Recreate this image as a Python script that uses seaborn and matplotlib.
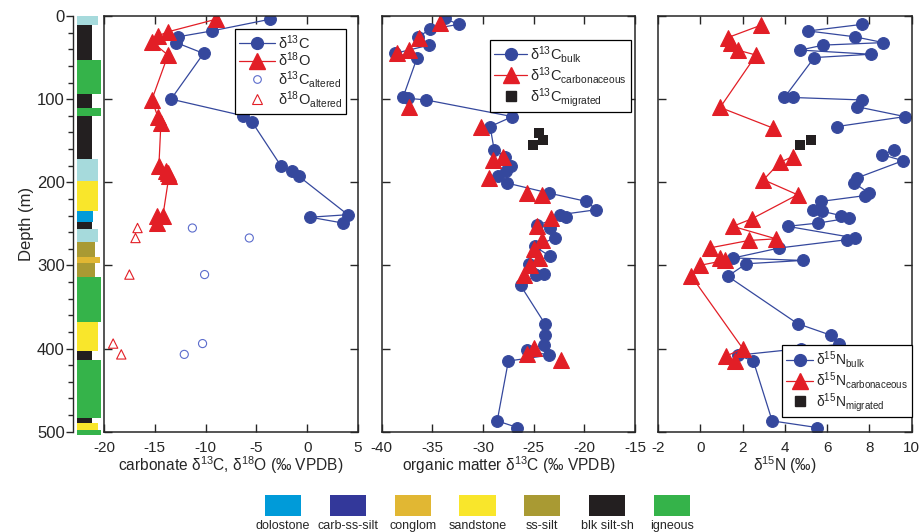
import numpy as np
import pandas as pd
import matplotlib
matplotlib.use("Agg")
import matplotlib.pyplot as plt
import seaborn as sns
from matplotlib.lines import Line2D

# ---- carbonate panel ----
carb_depth_c = [4, 18, 25, 32, 45, 100, 120, 128, 180, 187, 193, 239, 242, 249]
carb_d13c = [-3.7, -9.4, -12.7, -12.9, -10.2, -13.4, -6.3, -5.4, -2.6, -1.5, -0.8, 4.0, 0.3, 3.5]
carb_depth_o = [4, 19, 24, 31, 47, 101, 121, 129, 181, 186, 189, 192, 240, 241, 249]
carb_d18o = [-9.0, -13.7, -14.7, -15.3, -13.7, -15.3, -14.7, -14.4, -14.6, -13.9, -13.7, -13.6, -14.2, -14.8, -14.8]
alt_depth = [255, 267, 311, 394, 407]
alt_d13c = [-11.3, -5.7, -10.1, -10.3, -12.1]
alt_d18o = [-16.7, -16.9, -17.5, -19.1, -18.3]

# ---- organic carbon panel ----
org_bulk_depth = [3, 10, 16, 25, 35, 45, 50, 98, 99, 101, 121, 133, 161, 169, 181, 187, 192, 201,
                  213, 223, 233, 239, 242, 251, 255, 267, 277, 289, 298, 310, 312, 324, 370, 384,
                  396, 402, 408, 415, 487, 495]
org_bulk = [-33.8, -32.4, -35.2, -36.4, -35.3, -38.7, -36.5, -37.9, -37.4, -35.6, -27.1, -29.3,
            -28.9, -27.8, -27.2, -27.7, -28.5, -27.6, -23.5, -19.8, -18.8, -22.4, -21.8, -24.7,
            -23.4, -22.9, -24.9, -23.4, -25.5, -24.0, -24.8, -26.3, -23.9, -23.9, -24.0, -25.7,
            -23.5, -27.5, -28.6, -26.6]
org_carb_depth = [9, 26, 41, 45, 109, 133, 169, 173, 195, 213, 215, 243, 252, 269, 280, 291,
                  300, 312, 399, 406, 414]
org_carb = [-34.2, -36.3, -37.3, -38.5, -37.3, -30.2, -28.0, -29.0, -29.4, -25.7, -24.2, -23.3,
            -24.7, -24.2, -25.0, -24.5, -25.4, -26.0, -25.0, -25.7, -22.3]
org_mig_depth = [141, 149, 155]
org_mig = [-24.5, -24.1, -25.1]

# ---- nitrogen panel ----
n_bulk_depth = [10, 18, 25, 32, 35, 41, 46, 50, 98, 98, 101, 109, 121, 133,
                161, 167, 174, 195, 201, 213, 216, 223, 233, 235, 240, 243, 249, 253, 267, 269,
                279, 291, 294, 298, 313, 370, 384, 395, 400, 408, 415, 487, 495]
n_bulk = [7.67, 5.11, 7.31, 8.66, 5.82, 4.72, 8.07, 5.39, 3.98, 4.37, 7.67, 7.39, 9.68, 6.46,
          9.17, 8.61, 9.59, 7.39, 7.28, 7.99, 7.8, 5.71, 5.34, 5.78, 6.65, 7.04, 5.59, 4.13, 7.32, 6.96,
          3.74, 1.57, 4.84, 2.17, 1.30, 4.60, 6.18, 6.57, 4.76, 1.77, 2.51, 3.40, 5.52]
n_bulk_seg = [0] * 14 + [1] * 29
n_carb_depth = [11, 26, 32, 41, 47, 110, 135,
                169, 176, 197, 215, 244, 253, 268, 270, 279, 291, 294, 300, 313, 400, 409, 415]
n_carb = [2.88, 1.30, 1.46, 1.77, 2.64, 0.94, 3.46,
          4.37, 3.77, 2.99, 4.60, 2.43, 1.54, 3.58, 2.29, 0.44, 0.91, 1.15, -0.03, -0.42, 2.01, 1.23, 1.66]
n_carb_seg = [0] * 7 + [1] * 16
n_mig_depth = [149, 155]
n_mig = [5.24, 4.73]

# ---- lithology column ----
lith_top = [0, 11, 53.5, 94, 111, 120.5, 172, 198.5, 234, 248, 256, 272, 290, 297, 314.5,
            367.5, 403, 413.5, 483, 489.5, 497.5]
lith_base = [11, 53.5, 94, 111, 120.5, 172, 198.5, 234, 248, 256, 272, 290, 297, 314.5, 367.5,
             403, 413.5, 483, 489.5, 497.5, 504]
lith_type = ["pale", "blk silt-sh", "igneous", "blk silt-sh", "igneous", "blk silt-sh", "pale",
             "sandstone", "dolostone", "blk silt-sh", "pale", "ss-silt", "conglom", "ss-silt",
             "igneous", "sandstone", "blk silt-sh", "igneous", "blk silt-sh", "sandstone", "igneous"]
legend_liths = ["dolostone", "carb-ss-silt", "conglom", "sandstone", "ss-silt", "blk silt-sh", "igneous"]

LITH_COLORS = {"pale": "#a6dadc", "dolostone": "#009bd9", "carb-ss-silt": "#33389a",
               "conglom": "#e1b733", "sandstone": "#f9e62b", "ss-silt": "#a99a33",
               "blk silt-sh": "#231f20", "igneous": "#35b34a"}
LITH_WIDTH = {"pale": 20.7, "dolostone": 15.4, "conglom": 22.7, "sandstone": 20.7,
              "ss-silt": 17.7, "blk silt-sh": 14.4, "igneous": 23.7}

BLUE = "#35489d"
RED = "#e21e26"
BLACK = "#231f20"
LBLUE = "#5b6ccc"

sns.set_style("ticks")
plt.rcParams["font.family"] = ["Liberation Sans", "DejaVu Sans"]
plt.rcParams["mathtext.fontset"] = "custom"
plt.rcParams["mathtext.rm"] = "Liberation Sans"
plt.rcParams["mathtext.it"] = "Liberation Sans:italic"
plt.rcParams["axes.unicode_minus"] = False

W, H = 921, 532
fig = plt.figure(figsize=(W / 100, H / 100), dpi=100)


def rect(x0, x1, y0=16, y1=431.7):
    return [x0 / W, 1 - y1 / H, (x1 - x0) / W, (y1 - y0) / H]


# lithology column
axl = fig.add_axes(rect(73, 104))
for top, base, lt in zip(lith_top, lith_base, lith_type):
    axl.barh((top + base) / 2, LITH_WIDTH[lt], height=base - top, left=4.3,
             color=LITH_COLORS[lt], linewidth=0, clip_on=False)
axl.set_xlim(0, 31)
axl.set_ylim(500, 0)
for s in ["top", "right", "bottom"]:
    axl.spines[s].set_visible(False)
axl.spines["left"].set_linewidth(1.0)
axl.set_xticks([])
axl.set_yticks(np.arange(0, 501, 100))
axl.set_yticks(np.arange(0, 501, 20), minor=True)
axl.tick_params(axis="y", which="major", length=5, width=1, labelsize=12, pad=1)
axl.tick_params(axis="y", which="minor", length=3.5, width=1)
axl.set_ylabel("Depth (m)", fontsize=12, labelpad=2)


def style_panel(ax, xlim, xticks, xlabel):
    ax.set_xlim(*xlim)
    ax.set_ylim(500, 0)
    ax.set_xticks(xticks)
    ax.set_yticks(np.arange(0, 501, 100))
    ax.tick_params(direction="in", length=6, width=1, top=True, right=True,
                   labelleft=False, labelsize=11, pad=7)
    for s in ax.spines.values():
        s.set_linewidth(1.1)
    ax.set_xlabel(xlabel, fontsize=11.2, labelpad=-0.5)
    ax.set_ylabel("")


def leg(ax, handles, labels, loc, anchor, fs, spacing, hl=2.3):
    lg = ax.legend(handles, labels, loc=loc, bbox_to_anchor=anchor, fontsize=fs,
                   frameon=True, fancybox=False, framealpha=1, edgecolor="black",
                   labelspacing=spacing, handlelength=hl, handletextpad=0.2,
                   borderpad=0.25, borderaxespad=0)
    lg.get_frame().set_linewidth(0.9)


# panel 1: carbonate
ax1 = fig.add_axes(rect(104, 358))
sns.lineplot(x=carb_d13c, y=carb_depth_c, sort=False, estimator=None, ax=ax1, color=BLUE,
             lw=0.9, marker="o", markersize=8.5, markeredgecolor=BLUE)
sns.lineplot(x=carb_d18o, y=carb_depth_o, sort=False, estimator=None, ax=ax1, color=RED,
             lw=0.9, marker="^", markersize=11, markeredgecolor=RED)
sns.scatterplot(x=alt_d13c, y=alt_depth, ax=ax1, marker="o", s=34, facecolors="none",
                edgecolor=LBLUE, linewidth=0.8)
sns.scatterplot(x=alt_d18o, y=alt_depth, ax=ax1, marker="^", s=45, facecolors="none",
                edgecolor=RED, linewidth=0.8)
style_panel(ax1, (-20, 5), np.arange(-20, 6, 5), "carbonate δ$^{13}$C, δ$^{18}$O (‰ VPDB)")
leg(ax1,
    [Line2D([], [], color=BLUE, lw=0.9, marker="o", ms=8.5, mec=BLUE),
     Line2D([], [], color=RED, lw=0.9, marker="^", ms=11, mec=RED),
     Line2D([], [], ls="none", marker="o", ms=5.5, mfc="none", mec=LBLUE, mew=0.8),
     Line2D([], [], ls="none", marker="^", ms=6.5, mfc="none", mec=RED, mew=0.8)],
    ["δ$^{13}$C", "δ$^{18}$O", "δ$^{13}$C$_{\\mathrm{altered}}$", "δ$^{18}$O$_{\\mathrm{altered}}$"],
    "upper right", (0.953, 0.968), 10.5, -0.05, hl=2.5)

# panel 2: organic matter carbon
ax2 = fig.add_axes(rect(381.7, 635))
sns.lineplot(x=org_bulk, y=org_bulk_depth, sort=False, estimator=None, ax=ax2, color=BLUE,
             lw=0.9, marker="o", markersize=8.5, markeredgecolor=BLUE)
sns.lineplot(x=org_carb, y=org_carb_depth, sort=False, estimator=None, ax=ax2, color=RED,
             lw=0, marker="^", markersize=12, markeredgecolor=RED)
sns.scatterplot(x=org_mig, y=org_mig_depth, ax=ax2, marker="s", s=60, color=BLACK,
                edgecolor=BLACK, linewidth=0)
style_panel(ax2, (-40, -15), np.arange(-40, -14, 5), "organic matter δ$^{13}$C (‰ VPDB)")
leg(ax2,
    [Line2D([], [], color=BLUE, lw=0.9, marker="o", ms=8.5, mec=BLUE),
     Line2D([], [], color=RED, lw=0.9, marker="^", ms=12, mec=RED),
     Line2D([], [], ls="none", marker="s", ms=7, color=BLACK)],
    ["δ$^{13}$C$_{\\mathrm{bulk}}$", "δ$^{13}$C$_{\\mathrm{carbonaceous}}$",
     "δ$^{13}$C$_{\\mathrm{migrated}}$"],
    "upper right", (0.983, 0.942), 10.5, 0.0)

# panel 3: nitrogen
ax3 = fig.add_axes(rect(658, 911.7))
df_nb = pd.DataFrame({"v": n_bulk, "d": n_bulk_depth, "seg": n_bulk_seg})
df_nc = pd.DataFrame({"v": n_carb, "d": n_carb_depth, "seg": n_carb_seg})
sns.lineplot(data=df_nb, x="v", y="d", units="seg", sort=False, estimator=None, ax=ax3,
             color=BLUE, lw=0.9, marker="o", markersize=8.5, markeredgecolor=BLUE)
sns.lineplot(data=df_nc, x="v", y="d", units="seg", sort=False, estimator=None, ax=ax3,
             color=RED, lw=0.9, marker="^", markersize=12, markeredgecolor=RED)
sns.scatterplot(x=n_mig, y=n_mig_depth, ax=ax3, marker="s", s=60, color=BLACK,
                edgecolor=BLACK, linewidth=0)
style_panel(ax3, (-2, 10), np.arange(-2, 11, 2), "δ$^{15}$N (‰)")
leg(ax3,
    [Line2D([], [], color=BLUE, lw=0.9, marker="o", ms=8.5, mec=BLUE),
     Line2D([], [], color=RED, lw=0.9, marker="^", ms=12, mec=RED),
     Line2D([], [], ls="none", marker="s", ms=7, color=BLACK)],
    ["δ$^{15}$N$_{\\mathrm{bulk}}$", "δ$^{15}$N$_{\\mathrm{carbonaceous}}$",
     "δ$^{15}$N$_{\\mathrm{migrated}}$"],
    "lower right", (1.0, 0.035), 10, 0.0, hl=2.0)

# lithology key
axk = fig.add_axes([265 / W, 1 - 515.7 / H, 425 / W, 20.7 / H])
axk.bar(range(len(legend_liths)), 1, width=0.56,
        color=[LITH_COLORS[k] for k in legend_liths], linewidth=0)
for i, name in enumerate(legend_liths):
    axk.text(i, -0.5, name, ha="center", va="center", fontsize=9)
axk.set_xlim(-0.28, len(legend_liths) - 0.72)
axk.set_ylim(0, 1)
axk.axis("off")

fig.savefig("out.png", dpi=100)
